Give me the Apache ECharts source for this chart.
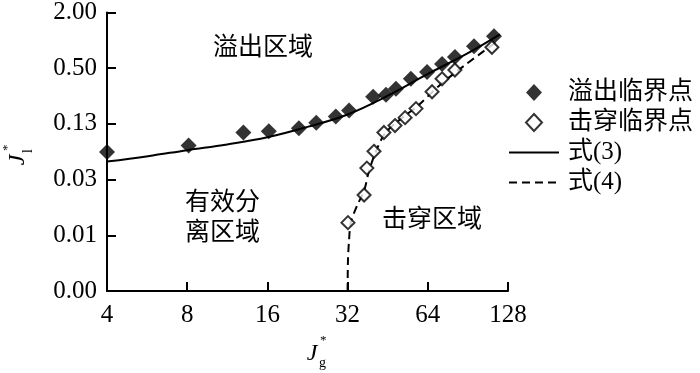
<!DOCTYPE html>
<html>
<head>
<meta charset="utf-8">
<script src="https://cdn.jsdelivr.net/npm/echarts@6/dist/echarts.min.js"></script>
<style>
	html, body { margin: 0; padding: 0; background: #fff; }
	#flood-chart { width: 700px; height: 373px; }
</style>
</head>
<body>
<div id="flood-chart"></div>
<script>
// 溢出临界点
var overflowX = [4, 8.1, 13.0, 16.2, 21.0, 24.4, 28.9, 32.4, 39.9, 44.6, 48.6, 55.3, 63.6, 72.4, 80.9, 95.4, 113.4];
var overflowY = [0.062, 0.073, 0.101, 0.104, 0.112, 0.129, 0.150, 0.174, 0.246, 0.258, 0.299, 0.384, 0.455, 0.555, 0.66, 0.865, 1.11];
// 击穿临界点
var punchX = [32.1, 36.9, 37.8, 40.2, 43.8, 48.2, 52.6, 57.8, 66.4, 72.4, 80.9, 111.4];
var punchY = [0.0107, 0.0213, 0.0416, 0.0632, 0.101, 0.120, 0.146, 0.183, 0.278, 0.384, 0.478, 0.843];
// 式(3)
var eq3X = [4, 5.7, 8, 11.3, 16, 22.6, 32, 45.3, 64, 90.5, 119.4];
var eq3Y = [0.049, 0.056, 0.065, 0.075, 0.0895, 0.116, 0.158, 0.252, 0.433, 0.727, 1.16];
// 式(4)
var eq4X = [32, 32.1, 32.4, 32.9, 34.7, 36.9, 38.5, 40.9, 44.2, 50.3, 58.8, 71.1, 88.3, 115.4];
var eq4Y = [0.00195, 0.0042, 0.0069, 0.0107, 0.0163, 0.0236, 0.0387, 0.0632, 0.0987, 0.139, 0.197, 0.330, 0.541, 0.955];

var legendNames = ['溢出临界点', '击穿临界点', '式(3)', '式(4)'];
// y 轴刻度 0.00 ~ 2.00，每格 4 倍
var yLow = 2 / 1024;

var serifFont = '"Liberation Serif", "Noto Sans CJK SC", serif';

function ly(v){
	return Math.log(v / yLow) / Math.log(4);
}

function pairs(xs, ys){
	var out = [];
	for (var i = 0; i < xs.length; i++) {
		out.push([xs[i], ly(ys[i])]);
	}
	return out;
}

function floodChart(){
	var floodChart = echarts.init(document.getElementById('flood-chart'));

	var option = {
		animation: false,
		grid: { left: 107, right: 192, top: 10, bottom: 82 },
		legend: [
			{   // 散点图例
				orient: 'vertical',
				left: 525,
				top: 80,
				padding: 0,
				itemWidth: 16,
				itemHeight: 17,
				itemGap: 5,
				data: legendNames.slice(0, 2),
				textStyle: { fontSize: 25, color: '#000', fontFamily: serifFont, padding: [0, 0, 0, 21] }
			},
			{   // 曲线图例
				orient: 'vertical',
				left: 508,
				top: 140,
				padding: 0,
				itemWidth: 50,
				itemHeight: 16,
				itemGap: 5,
				data: legendNames.slice(2),
				itemStyle: { opacity: 0 },
				textStyle: { fontSize: 25, color: '#000', fontFamily: serifFont, padding: [0, 0, 0, 4] }
			}
		],
		xAxis: {
			type: 'log',
			logBase: 2,
			min: 4,
			max: 128,
			axisLine: { lineStyle: { color: '#000', width: 2 } },
			axisTick: { inside: true, length: 9, lineStyle: { color: '#000', width: 2 } },
			axisLabel: { color: '#000', fontSize: 25, fontFamily: serifFont, margin: 12 },
			splitLine: { show: false }
		},
		yAxis: {
			type: 'value',
			min: 0,
			max: 5,
			interval: 1,
			axisLine: { show: true, lineStyle: { color: '#000', width: 2 } },
			axisTick: { show: true, inside: true, length: 9, lineStyle: { color: '#000', width: 2 } },
			axisLabel: {
				color: '#000', fontSize: 25, fontFamily: serifFont, margin: 10,
				formatter: function(v){ return (yLow * Math.pow(4, v)).toFixed(2); }
			},
			splitLine: { show: false }
		},
		graphic: [
			{ type: 'text', x: 263, y: 48, style: { text: '溢出区域', fontSize: 25, fontFamily: serifFont, fill: '#000', textAlign: 'center', textVerticalAlign: 'middle' } },
			{ type: 'text', x: 185, y: 188, style: { text: '有效分\n离区域', fontSize: 25, lineHeight: 30, fontFamily: serifFont, fill: '#000', textAlign: 'left' } },
			{ type: 'text', x: 382, y: 220, style: { text: '击穿区域', fontSize: 25, fontFamily: serifFont, fill: '#000', textAlign: 'left', textVerticalAlign: 'middle' } },
			// y 轴名 J_l^*
			{
				type: 'group', x: 18, y: 160, rotation: Math.PI / 2,
				children: [
					{ type: 'text', x: 0, y: 0, style: { text: 'J', fontSize: 24, fontStyle: 'italic', fontFamily: serifFont, fill: '#000', textAlign: 'center', textVerticalAlign: 'middle' } },
					{ type: 'text', x: 9, y: -10, style: { text: '*', fontSize: 13, fontFamily: serifFont, fill: '#000', textAlign: 'left', textVerticalAlign: 'middle' } },
					{ type: 'text', x: 7, y: 10, style: { text: 'l', fontSize: 14, fontFamily: serifFont, fill: '#000', textAlign: 'left', textVerticalAlign: 'middle' } }
				]
			},
			// x 轴名 J_g^*
			{
				type: 'group', x: 312, y: 354,
				children: [
					{ type: 'text', x: 0, y: 0, style: { text: 'J', fontSize: 24, fontStyle: 'italic', fontFamily: serifFont, fill: '#000', textAlign: 'center', textVerticalAlign: 'middle' } },
					{ type: 'text', x: 8, y: -13, style: { text: '*', fontSize: 13, fontFamily: serifFont, fill: '#000', textAlign: 'left', textVerticalAlign: 'middle' } },
					{ type: 'text', x: 7, y: 9, style: { text: 'g', fontSize: 14, fontFamily: serifFont, fill: '#000', textAlign: 'left', textVerticalAlign: 'middle' } }
				]
			}
		],
		series: [
			{
				name: legendNames[0],
				type: 'scatter',
				symbol: 'diamond',
				symbolSize: 16,
				z: 4,
				itemStyle: { color: '#000' },
				data: pairs(overflowX, overflowY)
			},
			{
				name: legendNames[1],
				type: 'scatter',
				symbol: 'diamond',
				symbolSize: 13,
				z: 4,
				itemStyle: { color: '#fff', borderColor: '#000', borderWidth: 2 },
				data: pairs(punchX, punchY)
			},
			{
				name: legendNames[2],
				type: 'line',
				symbol: 'none',
				smooth: 0.4,
				z: 2,
				itemStyle: { color: '#000' },
				lineStyle: { color: '#000', width: 2 },
				data: pairs(eq3X, eq3Y)
			},
			{
				name: legendNames[3],
				type: 'line',
				symbol: 'none',
				smooth: 0.3,
				z: 2,
				itemStyle: { color: '#000' },
				lineStyle: { color: '#000', width: 2, type: [8, 5] },
				data: pairs(eq4X, eq4Y)
			}
		]
	};

	floodChart.setOption(option);
}

floodChart();
</script>
</body>
</html>
